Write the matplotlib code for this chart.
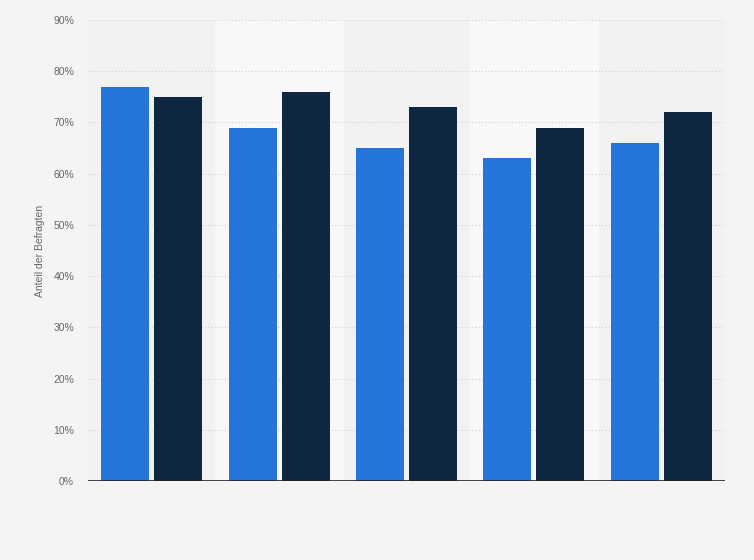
import numpy as np
import matplotlib.pyplot as plt
from matplotlib.ticker import FuncFormatter

plt.rcParams['font.family'] = ['Liberation Sans', 'DejaVu Sans']

groups = ["1", "2", "3", "4", "5"]
serie_a = [77, 69, 65, 63, 66]
serie_b = [75, 76, 73, 69, 72]
yticks = [0, 10, 20, 30, 40, 50, 60, 70, 80, 90]

fig = plt.figure(figsize=(7.54, 5.6), dpi=100)
fig.patch.set_facecolor("#f4f4f4")
ax = fig.add_axes([88 / 754, 1 - 481 / 560, 637 / 754, 461 / 560])
ax.set_facecolor("#f2f2f2")

x = np.arange(len(groups))
w = 0.377
gap = 0.02

# abwechselnde helle Streifen
for i in x:
    if i % 2 == 1:
        ax.axvspan(i - 0.5, i + 0.5, color="#f8f8f8", zorder=0)

for t in yticks[1:]:
    ax.axhline(t, color="#cfcfcf", lw=0.8, ls=(0, (1, 2)), zorder=1)

ax.bar(x - w / 2 - gap, serie_a, w, color="#2574d9", zorder=3)
ax.bar(x + w / 2 + gap, serie_b, w, color="#0f2740", zorder=3)
ax.axhline(0, color="#222222", lw=1.2, zorder=4)

ax.set_xlim(-0.5, len(groups) - 0.5)
ax.set_ylim(0, 90)
ax.set_yticks(yticks)
ax.yaxis.set_major_formatter(FuncFormatter(lambda v, p: "%d%%" % v))
ax.set_xticks([])
ax.tick_params(axis="y", length=0, pad=10, labelsize=7.5, labelcolor="#666666")
for s in ax.spines.values():
    s.set_visible(False)

ax.set_ylabel("Anteil der Befragten", fontsize=7.5, color="#666666")
ax.yaxis.set_label_coords(-43 / 637, 0.5)

fig.savefig("out.png", dpi=100, facecolor=fig.get_facecolor())
